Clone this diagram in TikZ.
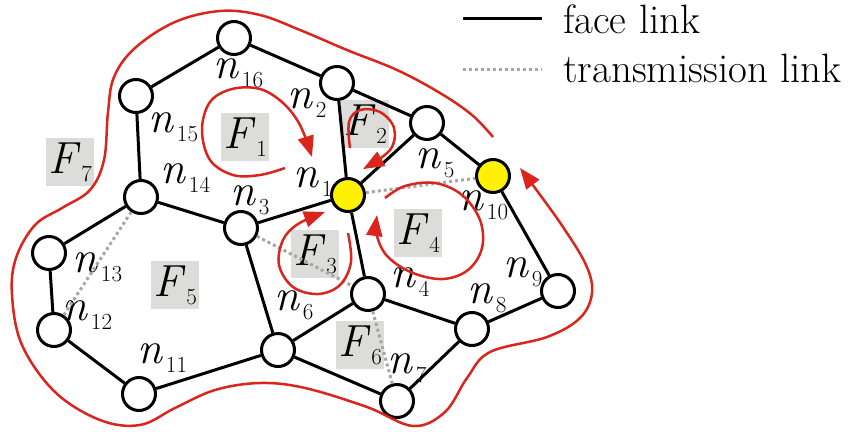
\documentclass[tikz,border=0pt]{standalone}
\usetikzlibrary{arrows.meta}
\definecolor{looprd}{RGB}{218,37,29}
\definecolor{facegray}{RGB}{220,220,218}
\newcommand{\nlab}[1]{\textit{n}\kern3pt\raisebox{-9pt}{\fontsize{23}{23}\selectfont #1}}
\newcommand{\flab}[1]{\textit{F}\kern1pt\raisebox{-8pt}{\fontsize{23}{23}\selectfont #1}}
\begin{document}
\begin{tikzpicture}[x=1pt, y=-1pt,
  router/.style={circle, draw, line width=3pt, fill=white, minimum size=33pt, inner sep=0pt},
  hub/.style={router, fill=yellow},
  facelink/.style={line width=3pt},
  translink/.style={line width=3pt, gray!70, dash pattern=on 3pt off 3pt},
  nname/.style={anchor=base west, inner sep=0pt, font=\fontsize{45}{45}\selectfont},
  fbox/.style={fill=facegray, minimum width=48pt, minimum height=48pt, inner sep=0pt,
               font=\fontsize{45}{45}\selectfont},
  facecycle/.style={looprd, line width=2.5pt, -{Triangle[length=21pt,width=16pt]}},
  legendtext/.style={anchor=base west, inner sep=0pt, font=\fontsize{41}{41}\selectfont}]
  \useasboundingbox (0,0) rectangle (853,434);

  % face labels
  \node[fbox] (f1) at (245,137) {\flab{1}};
  \node[fbox] (f2) at (365,124) {\flab{2}};
  \node[fbox] (f3) at (315,254) {\flab{3}};
  \node[fbox] (f4) at (418,233) {\flab{4}};
  \node[fbox] (f5) at (175,285) {\flab{5}};
  \node[fbox] (f6) at (360,345) {\flab{6}};
  \node[fbox] (f7) at (70,162) {\flab{7}};

  % routers
  \node[hub] (n1) at (348,195) {};
  \node[hub] (n10) at (493,176) {};
  \foreach \i/\x/\y in {2/337/83, 3/241/228, 4/368/294, 5/427/123, 6/278/350,
                        7/397/401, 8/472/329, 9/558/291, 11/139/394, 12/54/330,
                        13/49/253, 14/141/197, 15/136/96, 16/234/38}
    \node[router] (n\i) at (\x,\y) {};

  \foreach \i/\x/\y in {1/293/187, 2/287/108, 3/230/205, 4/390/287, 5/415/168,
                        6/274/310, 7/387/373, 8/467/303, 9/503/277, 10/458/210,
                        11/137/363, 12/62/320, 13/72/272, 14/160/183, 15/148/132,
                        16/213/78}
    \node[nname] (l\i) at (\x,\y) {\nlab{\i}};

  % links
  \foreach \a/\b in {16/15, 16/2, 15/14, 14/3, 3/1, 2/1, 2/5, 5/1, 5/10, 1/4,
                     3/6, 14/13, 13/12, 12/11, 11/6, 6/4, 6/7, 4/8, 7/8, 8/9, 9/10}
    \draw[facelink] (n\a) -- (n\b);
  \foreach \a/\b in {1/10, 3/4, 14/12, 4/7}
    \draw[translink] (n\a) -- (n\b);

  % face traversal
  \draw[facecycle] plot[smooth, tension=0.6] coordinates {(285,168) (260,175) (233,175)
    (210,160) (202,130) (210,102) (232,89) (260,89) (283,103) (300,125) (312,157)};
  \draw[facecycle] plot[smooth, tension=0.6] coordinates {(350,148) (349,122) (360,110)
    (380,112) (394,128) (390,150) (363,169)};
  \draw[facecycle] plot[smooth, tension=0.6] coordinates {(348,233) (351,262) (340,285)
    (318,294) (293,287) (279,265) (283,240) (298,224) (325,212)};
  \draw[facecycle] plot[smooth, tension=0.6] coordinates {(385,198) (405,186) (435,183)
    (462,195) (480,220) (482,248) (468,270) (443,279) (413,273) (388,257) (377,236) (377,215)};
  \draw[facecycle] plot[smooth, tension=0.6] coordinates {(493,137) (472,115) (440,93)
    (397,70) (347,50) (300,30) (260,15) (220,11) (175,22) (135,48) (114,77) (108,112)
    (104,160) (90,190) (62,208) (35,225) (16,258) (12,295) (22,345) (55,392) (100,420)
    (140,425) (175,408) (215,390) (260,383) (305,388) (367,407) (413,426) (445,412)
    (467,378) (490,352) (547,337) (580,318) (592,293) (586,265) (563,227) (535,188) (520,168)};

  % legend
  \coordinate (fl-a) at (463,18);
  \coordinate (fl-b) at (542,18);
  \coordinate (tl-a) at (463,69);
  \coordinate (tl-b) at (542,69);
  \draw[facelink] (fl-a) -- (fl-b);
  \draw[translink] (tl-a) -- (tl-b);
  \node[legendtext] (fltext) at (563,33) {face link};
  \node[legendtext] (tltext) at (563,82) {transmission link};
\end{tikzpicture}
\end{document}
